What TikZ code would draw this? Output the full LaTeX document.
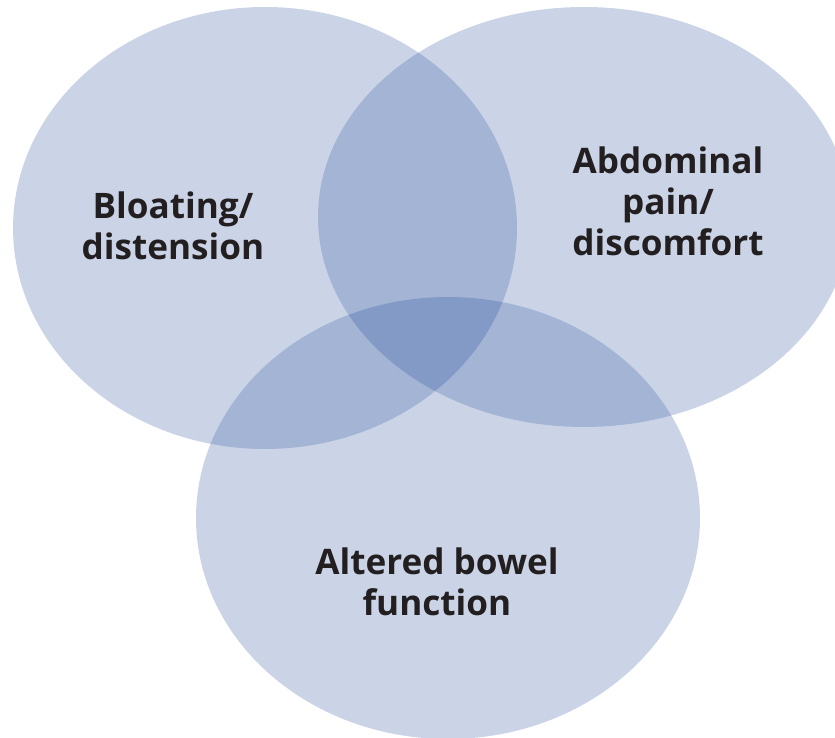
\documentclass[tikz,border=0pt]{standalone}
\usepackage{fontspec}
\setmainfont{Open Sans}
\usepackage{tikz}
\definecolor{venn}{RGB}{30,70,150}
\definecolor{ink}{HTML}{231F20}

\begin{document}
\begin{tikzpicture}[x=0.03cm, y=-0.03cm,
  every node/.style={font=\fontsize{30}{35}\selectfont\bfseries},
  setfill/.style={fill=venn, fill opacity=0.23},
  lbl/.style={align=center, text=ink, inner sep=0pt}
]
\useasboundingbox (0,0) rectangle (835,738);
% the three sets
\fill[setfill] (265,228) ellipse [x radius=252, y radius=221];
\fill[setfill] (584,217) ellipse [x radius=266, y radius=210];
\fill[setfill] (448,518) ellipse [x radius=252, y radius=221];

\node[lbl] (bloat) at (173,226) {Bloating/\\distension};
\node[lbl] (pain) at (668,201) {Abdominal\\pain/\\discomfort};
\node[lbl] (bowel) at (437,582) {Altered bowel\\function};
\end{tikzpicture}
\end{document}
